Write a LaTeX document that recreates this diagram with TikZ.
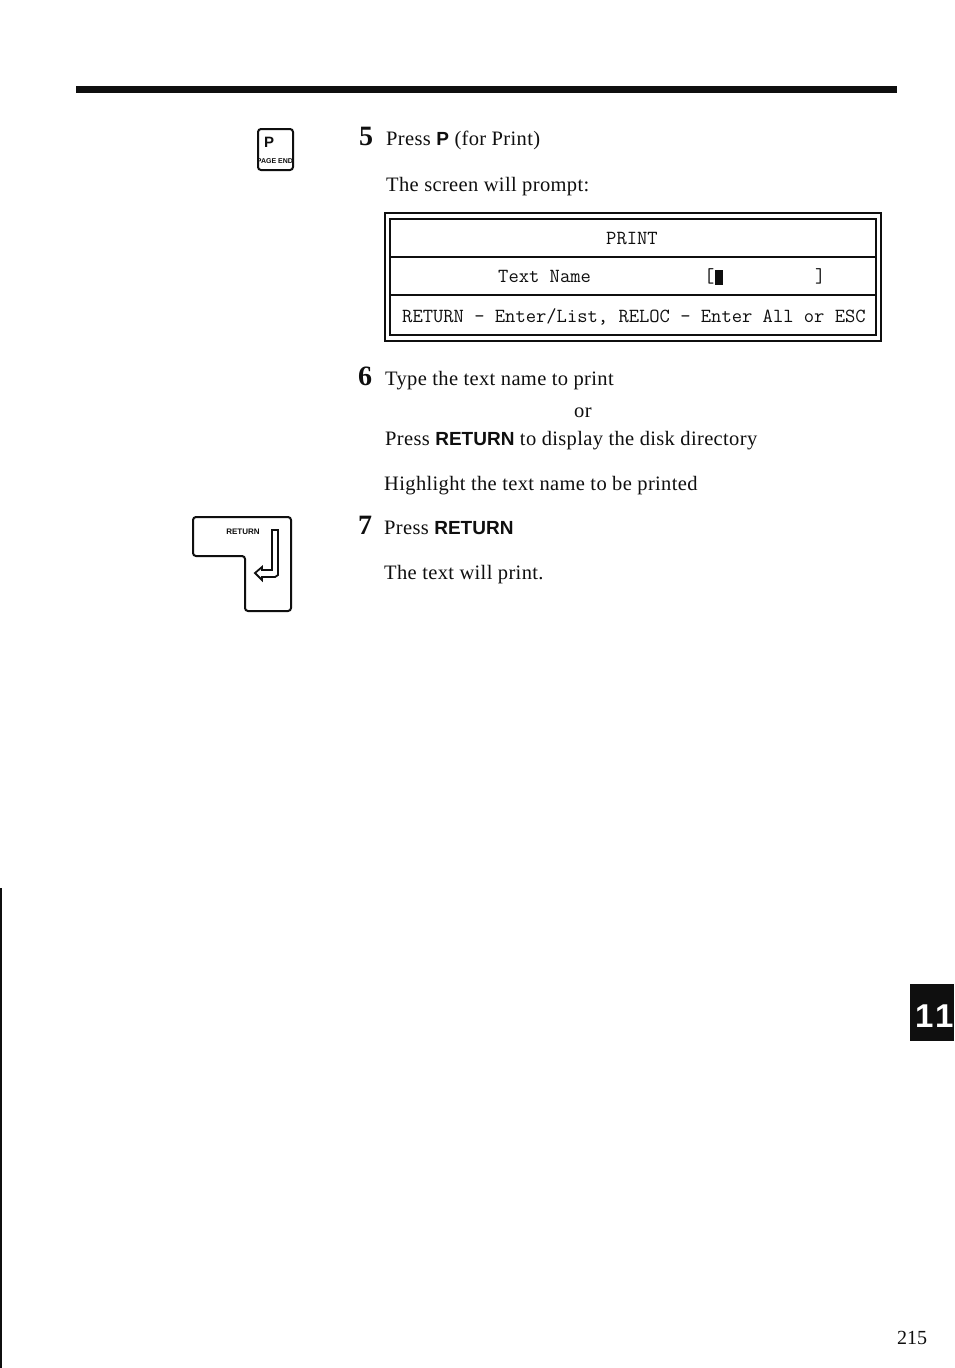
\documentclass[tikz,border=0pt]{standalone}
\usepackage{fontspec}
\setmainfont[LetterSpace=1.7]{Liberation Serif}
\setsansfont{Liberation Sans}
\newfontfamily\plainserif{Liberation Serif}
\usepackage{xcolor}
\definecolor{inkblack}{gray}{0.06}
\tikzset{
  bodytext/.style={anchor=base west,inner sep=0pt,text=inkblack,font=\fontsize{20.5}{24}\selectfont},
  stepnum/.style={anchor=base west,inner sep=0pt,text=inkblack,font=\plainserif\fontsize{28}{30}\selectfont\bfseries},
  screentext/.style={anchor=base west,inner sep=0pt,text=inkblack,font=\fontsize{20}{24}\selectfont\ttfamily},
  keyline/.style={draw=inkblack,line width=2,rounded corners=3},
  keylabel/.style={anchor=base,inner sep=0pt,text=inkblack,font=\sffamily\bfseries},
  tabdigit/.style={anchor=base west,inner sep=0pt,text=white,font=\sffamily\bfseries\fontsize{33}{33}\selectfont}
}
\newcommand{\keyword}[1]{{\sffamily\bfseries\fontsize{19}{24}\selectfont #1}}
\begin{document}
\begin{tikzpicture}[x=1pt,y=-1pt]
\useasboundingbox (0,0) rectangle (954,1368);
\fill[white] (0,0) rectangle (954,1368);

% page furniture
\fill[inkblack] (76,86) rectangle (897,93);
\fill[inkblack] (0,888) rectangle (1.6,1368);
\fill[inkblack] (910,984) rectangle (954,1041);
\node[tabdigit] (tabone) at (915,1027) {1};
\node[tabdigit] (tabtwo) at (935,1027) {1};
\node[bodytext,font=\plainserif\fontsize{20}{24}\selectfont] (pagenum) at (897,1344) {215};

% key P
\draw[keyline] (258,129) rectangle (293,170);
\node[keylabel,font=\sffamily\bfseries\fontsize{15}{15}\selectfont] (keyp) at (269,147) {P};
\node[keylabel,font=\sffamily\bfseries\fontsize{7}{7}\selectfont] (keypage) at (275,163) {PAGE END};

% key return
\draw[keyline] (193,517) -- (291,517) -- (291,611) -- (245,611) -- (245,556) -- (193,556) -- cycle;
\node[keylabel,font=\sffamily\bfseries\fontsize{8}{8}\selectfont] (keyret) at (243,534) {RETURN};
\draw[inkblack,line width=1.8] (272,530) -- (278,530) -- (278,575) -- (275,577) -- (262,577) -- (262,580) -- (255,573) -- (262,567) -- (262,570) -- (272,570) -- cycle;

% step 5
\node[stepnum] (num5) at (359,145) {5};
\node[bodytext] (press5) at (386,145) {Press \keyword{P} (for Print)};
\node[bodytext] (prompt) at (386,191) {The screen will prompt:};

% screen box
\draw[inkblack,line width=1.2] (385,213) rectangle (881,341);
\draw[inkblack,line width=1.6] (390,219) rectangle (876,335);
\draw[inkblack,line width=1.4] (390,257) -- (876,257);
\draw[inkblack,line width=1.4] (390,295) -- (876,295);
\node[screentext] (scrtitle) at (606,244) {PRINT};
\node[screentext] (scrname) at (498,282) {Text Name};
\node[screentext] (scropen) at (704,282) {[};
\fill[inkblack] (715,270) rectangle (723,285);
\node[screentext] (scrclose) at (815,282) {]};
\node[screentext] (scrhelp) at (402,322) {RETURN - Enter/List, RELOC - Enter All or ESC};

% step 6
\node[stepnum] (num6) at (358,385) {6};
\node[bodytext] (type6) at (385,385) {Type the text name to print};
\node[bodytext] (orword) at (574,417) {or};
\node[bodytext] (press6) at (385,445) {Press \keyword{RETURN} to display the disk directory};
\node[bodytext] (high6) at (384,490) {Highlight the text name to be printed};

% step 7
\node[stepnum] (num7) at (358,534) {7};
\node[bodytext] (press7) at (384,534) {Press \keyword{RETURN}};
\node[bodytext] (done7) at (384,579) {The text will print.};
\end{tikzpicture}
\end{document}
